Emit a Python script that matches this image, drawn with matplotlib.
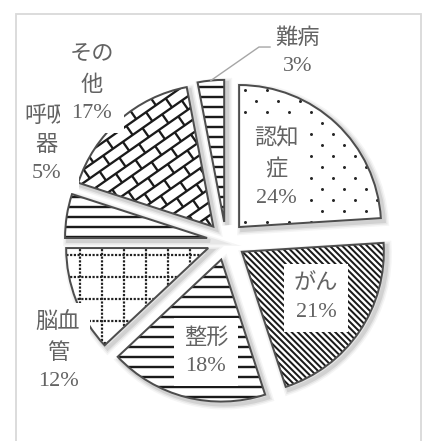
import numpy as np
import matplotlib.pyplot as plt
from matplotlib.patches import Wedge, Rectangle
from matplotlib.collections import LineCollection

# 疾患別の割合
names = ['認知\n症', 'がん', '整形', '脳血\n管', '呼吸\n器', 'その\n他', '難病']
shares = [24, 21, 18, 12, 5, 17, 3]
fills = ['dots', 'diag', 'hline', 'dotgrid', 'hline', 'brick', 'hline']

# ラベルの位置 (データ座標)
label_pos = [(0.352, 0.514), (0.634, -0.401), (-0.141, -0.782), (-1.183, -0.782),
             (-1.261, 0.676), (-0.944, 1.099), (0.507, 1.331)]

PX = 1 / 142          # 1ピクセル分のデータ単位
PT = 0.72             # 1ピクセル分のポイント
R = 1.8
INK = '#1a1a1a'
TXT = '#636363'
FONT = ['Liberation Serif', 'Noto Sans CJK JP']


def rotate(segs, deg):
    t = np.radians(deg)
    m = np.array([[np.cos(t), -np.sin(t)], [np.sin(t), np.cos(t)]])
    return [np.asarray(s) @ m.T for s in segs]


def stripe_segs(deg, gap):
    rows = np.arange(-R, R, gap)
    return rotate([[(-R, v), (R, v)] for v in rows], deg)


def brick_segs(deg, h, L):
    segs = []
    for k, v in enumerate(np.arange(-R, R, h)):
        segs.append([(-R, v), (R, v)])
        for u in np.arange(-R, R, L) + (k % 2) * L / 2:
            segs.append([(u, v), (u, v + h)])
    return rotate(segs, deg)


def add_texture(ax, wedge, kind):
    arts = []
    if kind == 'dots':
        s = 11 * PX
        g = np.arange(-R, R, s)
        xx, yy = np.meshgrid(g, g)
        n = np.add.outer(np.arange(len(g)), np.arange(len(g))) % 2 == 0
        arts.append(ax.scatter(xx[n], yy[n], s=(3.0 * PT) ** 2, color='#262626',
                               linewidths=0, zorder=3))
    elif kind == 'diag':
        arts.append(LineCollection(stripe_segs(-45, 4.4 * PX), colors=INK,
                                   linewidths=2.0 * PT, zorder=3))
    elif kind == 'hline':
        arts.append(LineCollection(stripe_segs(0, 10 * PX), colors=INK,
                                   linewidths=2.4 * PT, zorder=3))
    elif kind == 'dotgrid':
        g = np.arange(-R, R, 22 * PX)
        segs = [[(x, -R), (x, R)] for x in g] + [[(-R, y), (R, y)] for y in g]
        arts.append(LineCollection(segs, colors='#222222', linewidths=2.2 * PT,
                                   linestyles=[(0, (1, 0.7))], zorder=3))
    elif kind == 'brick':
        arts.append(LineCollection(brick_segs(35, 11 * PX, 24 * PX), colors=INK,
                                   linewidths=2.3 * PT, zorder=3))
    for a in arts:
        if isinstance(a, LineCollection):
            ax.add_collection(a)
        a.set_clip_path(wedge)


fig = plt.figure(figsize=(4.24, 4.41), dpi=100)
ax = fig.add_axes([0, 0, 1, 1])

wedges, _ = ax.pie(shares, startangle=90, counterclock=False,
                   explode=[0.135] * len(shares), radius=1,
                   wedgeprops=dict(facecolor='white', edgecolor='none', zorder=2))

for w, kind in zip(wedges, fills):
    cx, cy = w.center
    # ぼかした影
    for lw, al in [(10, 0.04), (7, 0.06), (4, 0.09)]:
        ax.add_patch(Wedge((cx + 3 * PX, cy - 3 * PX), w.r, w.theta1, w.theta2,
                           facecolor='none', edgecolor='black', alpha=al,
                           linewidth=lw * PT, zorder=1))
    add_texture(ax, w, kind)
    ax.add_patch(Wedge(w.center, w.r, w.theta1, w.theta2, facecolor='none',
                       edgecolor='#4d4d4d', linewidth=2.0 * PT, zorder=4))

for i, (name, v, (x, y)) in enumerate(zip(names, shares, label_pos)):
    ax.text(x, y, f'{name}\n{v}%', ha='center', va='center', fontsize=16,
            family=FONT, color=TXT, linespacing=1.6, zorder=6 + i,
            bbox=dict(boxstyle='square,pad=0.45', facecolor='white', edgecolor='none'))

# 難病の引き出し線
w = wedges[-1]
mid = np.radians((w.theta1 + w.theta2) / 2)
ex = w.center[0] + w.r * np.cos(mid)
ey = w.center[1] + w.r * np.sin(mid)
tx, ty = label_pos[-1]
ax.plot([ex, tx - 0.275, tx - 0.197], [ey, ty + 0.035, ty + 0.035],
        color='#a6a6a6', linewidth=1.0, zorder=20)

ax.set_xlim(-226 * PX, (424 - 226) * PX)
ax.set_ylim(-(441 - 241) * PX, 241 * PX)
ax.set_aspect('auto')
ax.axis('off')

# グラフエリアの枠
fig.patches.append(Rectangle((16 / 424, -0.02), (421 - 16) / 424, 1.02 - 14 / 441,
                             transform=fig.transFigure, facecolor='none',
                             edgecolor='#d9d9d9', linewidth=1.3))

fig.savefig('out.png', dpi=100)
